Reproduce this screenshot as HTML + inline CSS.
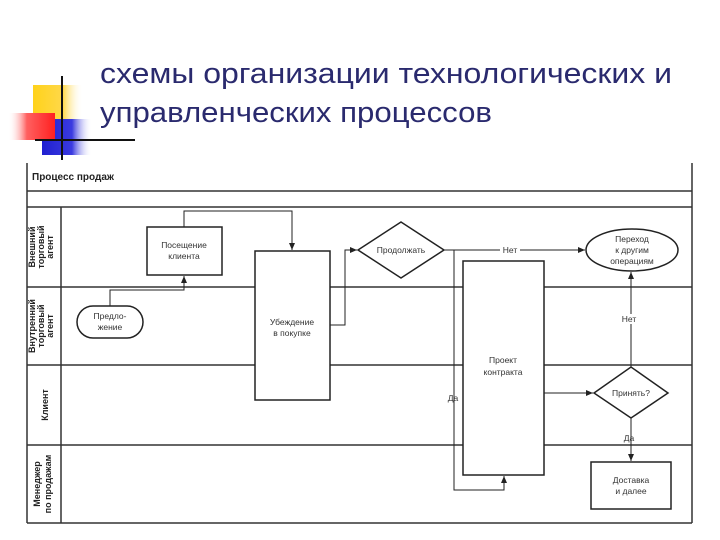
<!DOCTYPE html>
<html><head><meta charset="utf-8"><style>
html,body{margin:0;padding:0;background:#fff;width:720px;height:540px;overflow:hidden}
svg{display:block}
</style></head><body>
<svg width="720" height="540" viewBox="0 0 720 540" xmlns="http://www.w3.org/2000/svg" font-family="Liberation Sans, DejaVu Sans, sans-serif">
<defs>
<linearGradient id="gy" x1="0" x2="1"><stop offset="0" stop-color="#ffd21a"/><stop offset="0.6" stop-color="#ffd84a"/><stop offset="1" stop-color="#fff" stop-opacity="0"/></linearGradient>
<linearGradient id="gr" x1="0" x2="1"><stop offset="0" stop-color="#fff" stop-opacity="0"/><stop offset="0.4" stop-color="#ff6060"/><stop offset="1" stop-color="#ff2020"/></linearGradient>
<linearGradient id="gb" x1="0" x2="1"><stop offset="0" stop-color="#2020d0"/><stop offset="0.6" stop-color="#3a3ae0"/><stop offset="1" stop-color="#fff" stop-opacity="0"/></linearGradient>
<marker id="a" markerWidth="8" markerHeight="8" refX="7" refY="4" orient="auto" markerUnits="userSpaceOnUse"><path d="M0,1 L7,4 L0,7 z" fill="#222"/></marker>
</defs>
<!-- decoration -->
<rect x="33" y="85" width="50" height="45" fill="url(#gy)"/>
<rect x="42" y="119" width="50" height="36" fill="url(#gb)"/>
<rect x="8" y="113" width="47" height="27" fill="url(#gr)"/>
<line x1="62" y1="76" x2="62" y2="160" stroke="#111" stroke-width="2"/>
<line x1="35" y1="140" x2="135" y2="140" stroke="#111" stroke-width="2"/>
<!-- title -->
<g fill="#2a2a6e" font-size="29">
<text x="100" y="83" textLength="572" lengthAdjust="spacingAndGlyphs">схемы организации технологических и</text>
<text x="100" y="122" textLength="392" lengthAdjust="spacingAndGlyphs">управленческих процессов</text>
</g>
<!-- frame -->
<g stroke="#333" fill="none" stroke-width="1.5">
<line x1="27" y1="163" x2="27" y2="523"/>
<line x1="692" y1="163" x2="692" y2="523"/>
<line x1="27" y1="191" x2="692" y2="191"/>
<line x1="27" y1="207" x2="692" y2="207"/>
<line x1="27" y1="287" x2="692" y2="287"/>
<line x1="27" y1="365" x2="692" y2="365"/>
<line x1="27" y1="445" x2="692" y2="445"/>
<line x1="27" y1="523" x2="692" y2="523"/>
<line x1="61" y1="207" x2="61" y2="523"/>
</g>
<text x="32" y="180" font-size="10" font-weight="bold" fill="#222">Процесс продаж</text>
<g font-size="9" font-weight="bold" fill="#222" text-anchor="middle">
<text transform="translate(44,247) rotate(-90)"><tspan x="0" y="-9">Внешний</tspan><tspan x="0" y="0">торговый</tspan><tspan x="0" y="9">агент</tspan></text>
<text transform="translate(44,326) rotate(-90)"><tspan x="0" y="-9">Внутренний</tspan><tspan x="0" y="0">торговый</tspan><tspan x="0" y="9">агент</tspan></text>
<text transform="translate(48,405) rotate(-90)">Клиент</text>
<text transform="translate(44,484) rotate(-90)"><tspan x="0" y="-4">Менеджер</tspan><tspan x="0" y="7">по продажам</tspan></text>
</g>
<!-- shapes -->
<g stroke="#222" fill="#fff" stroke-width="1.5">
<rect x="147" y="227" width="75" height="48"/>
<rect x="77" y="306" width="66" height="32" rx="16"/>
<rect x="255" y="251" width="75" height="149"/>
<polygon points="358,250 401,222 444,250 401,278"/>
<ellipse cx="632" cy="250" rx="46" ry="21"/>
<rect x="463" y="261" width="81" height="214"/>
<polygon points="594,393 631,367 668,393 631,418"/>
<rect x="591" y="462" width="80" height="47"/>
</g>
<g stroke="#222" fill="none" stroke-width="1">
<polyline points="184,227 184,211 292,211 292,250" marker-end="url(#a)"/>
<polyline points="110,306 110,290 184,290 184,276" marker-end="url(#a)"/>
<polyline points="330,325 345,325 345,250 357,250" marker-end="url(#a)"/>
<polyline points="444,250 585,250" marker-end="url(#a)"/>
<polyline points="454,250 454,490 504,490 504,476" marker-end="url(#a)"/>
<polyline points="544,393 593,393" marker-end="url(#a)"/>
<polyline points="631,367 631,272" marker-end="url(#a)"/>
<polyline points="631,418 631,461" marker-end="url(#a)"/>
</g>
<g font-size="8.5" fill="#333" text-anchor="middle">
<rect x="500" y="245" width="20" height="10" fill="#fff"/>
<text x="510" y="253">Нет</text>
<rect x="619" y="314" width="22" height="10" fill="#fff"/>
<text x="629" y="322">Нет</text>
<text x="453" y="401">Да</text>
<text x="629" y="441">Да</text>
<text x="184" y="248">Посещение</text><text x="184" y="259">клиента</text>
<text x="110" y="319">Предло-</text><text x="110" y="330">жение</text>
<text x="292" y="325">Убеждение</text><text x="292" y="336">в покупке</text>
<text x="401" y="253">Продолжать</text>
<text x="632" y="242">Переход</text><text x="632" y="253">к другим</text><text x="632" y="264">операциям</text>
<text x="503" y="363">Проект</text><text x="503" y="375">контракта</text>
<text x="631" y="396">Принять?</text>
<text x="631" y="483">Доставка</text><text x="631" y="494">и далее</text>
</g>
</svg>
</body></html>
